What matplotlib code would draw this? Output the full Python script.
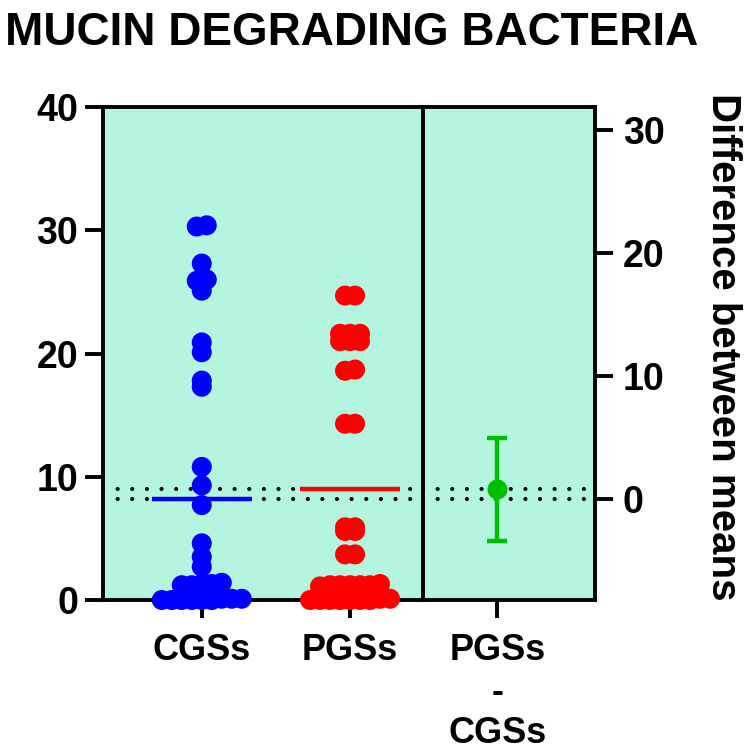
import numpy as np
import matplotlib
matplotlib.use('Agg')
import matplotlib.pyplot as plt
from matplotlib import font_manager

# ---------------- data ----------------
title = 'MUCIN DEGRADING BACTERIA'
categories = ['CGSs', 'PGSs']
diff_category = 'PGSs\n-\nCGSs'
right_axis_label = 'Difference between means'

cgs_values = [30.4, 30.3, 27.3, 26.0, 25.9, 25.1, 20.9, 20.1, 17.8, 17.3,
              10.8, 9.3, 7.7, 4.6, 3.5, 2.7, 1.3, 1.3, 1.2, 1.2, 1.4,
              0.1, 0.1, 0.0, 0.0, 0.0, 0.0, 0.0, 0.1, 0.0]
pgs_values = [24.7, 24.7, 21.6, 21.6, 21.6, 21.0, 21.0, 21.0, 18.7, 18.6,
              14.3, 14.3, 5.9, 5.9, 5.6, 5.6, 3.7, 3.7,
              1.2, 1.2, 1.3, 1.2, 1.1, 1.2, 1.2,
              0.0, 0.1, 0.0, 0.0, 0.0, 0.1, 0.0, 0.0, 0.0]
group_means = [8.17, 8.98]
diff_mean = 0.81
diff_ci = [-3.37, 4.99]
left_ticks = [0, 10, 20, 30, 40]
right_ticks = [0, 10, 20, 30]

group_colors = ['#0000FF', '#FF0000']
diff_color = '#00BF00'
bg_color = '#B3F5DE'

# ---------------- figure ----------------
plt.rcParams['font.family'] = ['Liberation Sans', 'DejaVu Sans']
W = 750.0
fig = plt.figure(figsize=(7.5, 7.5), dpi=100)
ax1 = fig.add_axes([103 / W, 150 / W, 320 / W, 493 / W])
ax2 = fig.add_axes([423 / W, 150 / W, 172 / W, 493 / W])

ax1.set_xlim(-0.666, 1.492)
ax1.set_ylim(left_ticks[0], left_ticks[-1])
ax2.set_xlim(-0.743, 0.977)
ax2.set_ylim(left_ticks[0] - group_means[0], left_ticks[-1] - group_means[0])

for ax in (ax1, ax2):
    ax.set_facecolor(bg_color)
    for sp in ax.spines.values():
        sp.set_linewidth(2.8)
        sp.set_color('black')
    ax.tick_params(axis='both', direction='out', length=13, width=2.8,
                   color='black', labelcolor='black')

# left panel ticks
ax1.set_yticks(left_ticks)
ax1.set_yticklabels([str(t) for t in left_ticks], fontsize=27, fontweight='bold')
ax1.tick_params(axis='y', pad=5, right=False)
ax1.set_xticks(range(len(categories)))
ax1.set_xticklabels(categories, fontsize=26, fontweight='bold')
ax1.tick_params(axis='x', pad=11, top=False)

# right panel ticks
ax2.yaxis.tick_right()
ax2.set_yticks(right_ticks)
ax2.set_yticklabels([str(t) for t in right_ticks], fontsize=27, fontweight='bold')
ax2.tick_params(axis='y', pad=7, left=False)
ax2.set_xticks([0])
ax2.set_xticklabels([diff_category], fontsize=26, fontweight='bold',
                    linespacing=1.24)
ax2.tick_params(axis='x', pad=11, top=False)


def row_layout(ax, xc, values, d_px, tol_px):
    t = ax.transData
    ys = np.array([t.transform((xc, v))[1] for v in values])
    ppx = t.transform((1, 0))[0] - t.transform((0, 0))[0]
    order = np.argsort(ys, kind='stable')
    xs = np.zeros(len(values))
    rows = []
    for i in order:
        if rows and ys[i] - ys[rows[-1][0]] <= tol_px:
            rows[-1].append(i)
        else:
            rows.append([i])
    for r in rows:
        n = len(r)
        for j, i in enumerate(r):
            xs[i] = xc + (j - (n - 1) / 2) * d_px / ppx
    return xs


dot_style = (0, (0.01, 3.5))
# dotted reference lines at the two means
for m in group_means:
    ax1.axhline(m, color='black', lw=3, linestyle=dot_style,
                dash_capstyle='round', zorder=2)
for m in (0, diff_mean):
    ax2.axhline(m, color='black', lw=3, linestyle=dot_style,
                dash_capstyle='round', zorder=2)

# points and mean lines
for i, (vals, col, m) in enumerate(zip([cgs_values, pgs_values],
                                       group_colors, group_means)):
    xs = row_layout(ax1, i, vals, 10, 3)
    ax1.hlines(m, i - 0.337, i + 0.337, color=col, lw=3.2, zorder=3)
    ax1.scatter(xs, vals, s=14.4 ** 2, color=col, edgecolors='none',
                zorder=4, clip_on=False)

# difference between means with CI
ax2.errorbar([0], [diff_mean],
             yerr=[[diff_mean - diff_ci[0]], [diff_ci[1] - diff_mean]],
             fmt='o', color=diff_color, ms=14.4, mec='none',
             elinewidth=3.2, capsize=7.2, capthick=3.2, zorder=4)

# right axis label
fig.text(712 / W, 0.538, right_axis_label, rotation=270, rotation_mode='anchor',
         ha='center', va='baseline', fontsize=29, fontweight='bold')

# title
names = {f.name for f in font_manager.fontManager.ttflist}
if 'Liberation Sans Narrow' in names:
    tfam, tsize = 'Liberation Sans Narrow', 39
else:
    tfam, tsize = 'Liberation Sans', 33
fig.text(5 / W, 1 - 45 / W, title, fontsize=tsize, fontweight='bold',
         family=tfam, ha='left', va='baseline')

fig.savefig('out.png', dpi=100)
